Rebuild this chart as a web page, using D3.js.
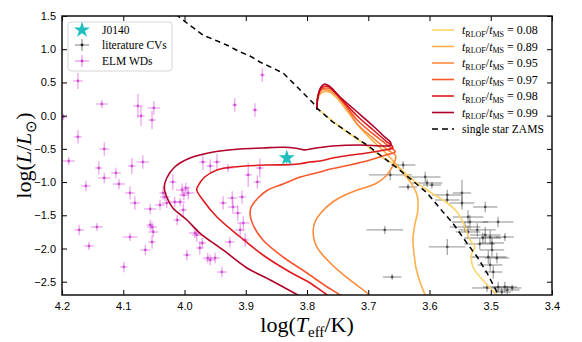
<!DOCTYPE html>
<html>
<head>
<meta charset="utf-8">
<script src="https://cdn.jsdelivr.net/npm/d3@7"></script>
<style>
  body { margin: 0; background: #fff; }
  svg { display: block; }
  .tick text { font-family: "Liberation Sans", Arial, sans-serif; font-size: 11px; fill: #000; }
  .serif { font-family: "Liberation Serif", "Times New Roman", serif; fill: #000; }
</style>
</head>
<body>
<svg id="chart" width="582" height="342"></svg>
<script>
// axis ticks
var xTicks = [4.2, 4.1, 4.0, 3.9, 3.8, 3.7, 3.6, 3.5, 3.4];
var yTicks = [1.5, 1.0, 0.5, 0.0, -0.5, -1.0, -1.5, -2.0, -2.5];

// binary tracks, [logTeff, logL]
var trackLabels = ["0.08", "0.89", "0.95", "0.97", "0.98", "0.99"];
var track008 = [[3.784,0.115],[3.754,-0.111],[3.730,-0.276],[3.702,-0.457],[3.678,-0.622],[3.653,-0.758],[3.627,-0.969],[3.599,-1.149],[3.571,-1.315],[3.555,-1.450],[3.545,-1.616],[3.534,-1.872],[3.526,-1.977],[3.531,-2.068],[3.529,-2.278],[3.513,-2.474],[3.493,-2.670],[3.485,-2.745]];
var track089 = [[3.784,0.085],[3.782,0.266],[3.774,0.356],[3.764,0.356],[3.753,0.281],[3.733,0.055],[3.713,-0.186],[3.689,-0.412],[3.668,-0.592],[3.655,-0.728],[3.642,-0.878],[3.629,-1.029],[3.620,-1.210],[3.619,-1.420],[3.624,-1.646],[3.627,-1.872],[3.625,-2.098],[3.622,-2.293],[3.615,-2.519],[3.607,-2.700],[3.602,-2.805]];
var track095 = [[3.784,0.085],[3.782,0.281],[3.776,0.386],[3.766,0.386],[3.756,0.341],[3.736,0.130],[3.718,-0.126],[3.692,-0.337],[3.668,-0.517],[3.656,-0.592],[3.655,-0.622],[3.660,-0.758],[3.671,-0.909],[3.689,-1.029],[3.713,-1.104],[3.738,-1.195],[3.758,-1.300],[3.776,-1.450],[3.787,-1.601],[3.790,-1.752],[3.784,-1.977],[3.762,-2.218],[3.730,-2.474],[3.702,-2.670],[3.692,-2.775]];
var track097 = [[3.784,0.085],[3.782,0.296],[3.776,0.401],[3.767,0.416],[3.759,0.386],[3.740,0.190],[3.718,-0.066],[3.692,-0.276],[3.669,-0.442],[3.658,-0.517],[3.656,-0.547],[3.671,-0.592],[3.697,-0.668],[3.730,-0.743],[3.762,-0.803],[3.779,-0.848],[3.811,-0.924],[3.839,-1.029],[3.864,-1.119],[3.880,-1.240],[3.891,-1.375],[3.893,-1.481],[3.888,-1.646],[3.872,-1.872],[3.839,-2.128],[3.800,-2.369],[3.767,-2.579],[3.746,-2.700],[3.730,-2.805]];
var track098 = [[3.784,0.085],[3.782,0.296],[3.777,0.416],[3.769,0.446],[3.761,0.416],[3.743,0.236],[3.718,-0.005],[3.692,-0.216],[3.671,-0.382],[3.661,-0.457],[3.660,-0.487],[3.673,-0.517],[3.702,-0.562],[3.738,-0.607],[3.758,-0.638],[3.779,-0.683],[3.795,-0.698],[3.811,-0.725],[3.828,-0.738],[3.865,-0.743],[3.921,-0.773],[3.947,-0.818],[3.967,-0.924],[3.978,-1.059],[3.980,-1.119],[3.970,-1.270],[3.947,-1.526],[3.909,-1.827],[3.872,-2.098],[3.828,-2.354],[3.795,-2.519],[3.767,-2.700],[3.749,-2.805]];
var track099 = [[3.784,0.085],[3.782,0.296],[3.777,0.431],[3.771,0.476],[3.764,0.446],[3.746,0.281],[3.718,0.055],[3.692,-0.156],[3.673,-0.321],[3.664,-0.397],[3.663,-0.442],[3.674,-0.457],[3.713,-0.442],[3.758,-0.457],[3.779,-0.480],[3.792,-0.498],[3.805,-0.515],[3.818,-0.490],[3.839,-0.475],[3.872,-0.487],[3.909,-0.502],[3.953,-0.547],[3.991,-0.638],[4.016,-0.773],[4.029,-0.939],[4.033,-1.074],[4.029,-1.225],[4.019,-1.390],[3.996,-1.571],[3.975,-1.767],[3.937,-2.022],[3.898,-2.293],[3.860,-2.474],[3.815,-2.700],[3.795,-2.805]];
var tracks = [track008, track089, track095, track097, track098, track099];
var trackColors = ["#fdd46a", "#feb04a", "#fd8a3b", "#f8562c", "#e0191d", "#b00028"];

// single star ZAMS
var zams = [[4.014,1.530],[4.007,1.470],[3.970,1.214],[3.931,1.063],[3.909,0.958],[3.893,0.898],[3.877,0.808],[3.839,0.642],[3.816,0.431],[3.790,0.190],[3.784,0.115],[3.758,-0.096],[3.702,-0.442],[3.653,-0.788],[3.627,-0.984],[3.604,-1.164],[3.578,-1.450],[3.562,-1.616],[3.539,-1.917],[3.522,-2.128],[3.506,-2.369],[3.490,-2.655],[3.485,-2.740]];

// ELM WDs, [logTeff, logL, err logTeff, err logL]
var elmWDs = [[4.198,-0.020,0.006,0.05],[4.174,0.522,0.008,0.12],[4.135,0.175,0.010,0.06],[4.076,0.145,0.008,0.18],[4.071,-0.005,0.006,0.15],[4.050,0.115,0.010,0.10],[4.053,-0.066,0.006,0.14],[4.174,-0.321,0.006,0.10],[4.131,-0.502,0.008,0.10],[4.189,-0.683,0.010,0.06],[4.140,-0.788,0.006,0.10],[4.131,-0.939,0.010,0.08],[4.112,-0.863,0.008,0.08],[4.086,-0.758,0.006,0.12],[4.068,-0.698,0.010,0.10],[4.161,-1.059,0.008,0.08],[4.107,-1.029,0.010,0.08],[4.089,-1.164,0.008,0.10],[4.081,-1.315,0.008,0.10],[4.056,-1.405,0.010,0.08],[4.172,-1.721,0.008,0.08],[4.143,-1.676,0.010,0.06],[4.156,-1.962,0.008,0.06],[4.089,-1.827,0.012,0.06],[4.056,-1.646,0.006,0.08],[4.051,-1.751,0.008,0.08],[4.053,-1.902,0.006,0.10],[4.064,-2.022,0.008,0.08],[4.099,-2.278,0.006,0.08],[4.029,-1.315,0.008,0.08],[4.035,-1.164,0.006,0.10],[4.019,-0.999,0.006,0.12],[4.004,-1.119,0.010,0.10],[4.001,-1.195,0.008,0.08],[4.007,-1.300,0.008,0.06],[4.002,-1.420,0.006,0.10],[4.012,-1.571,0.006,0.08],[3.996,-2.098,0.006,0.08],[3.983,-1.767,0.010,0.08],[3.970,-0.698,0.006,0.12],[3.958,-0.758,0.006,0.10],[3.947,-0.698,0.006,0.12],[3.929,-0.788,0.010,0.06],[3.896,-0.893,0.006,0.18],[3.877,-0.788,0.006,0.14],[3.881,-0.999,0.006,0.10],[4.040,-1.345,0.008,0.08],[4.016,-1.300,0.008,0.08],[4.032,-1.225,0.008,0.06],[4.053,-1.676,0.008,0.08],[3.980,-1.797,0.008,0.10],[3.975,-1.992,0.006,0.10],[3.962,-2.143,0.008,0.08],[3.950,-2.143,0.008,0.08],[3.939,-2.354,0.008,0.08],[3.922,-1.240,0.008,0.10],[3.906,-1.225,0.006,0.10],[3.921,-1.375,0.008,0.10],[3.937,-1.315,0.006,0.10],[3.913,-1.466,0.006,0.12],[3.904,-1.616,0.010,0.10],[3.909,-1.721,0.008,0.12],[3.901,-1.872,0.006,0.10],[3.926,-1.902,0.008,0.08],[3.873,0.612,0.004,0.10],[3.918,0.160,0.004,0.10],[3.885,0.085,0.004,0.10],[3.971,-1.917,0.006,0.08],[3.958,-2.173,0.008,0.08],[3.998,-1.089,0.008,0.08],[3.994,-1.164,0.010,0.10]];

// literature CVs, [logTeff, logL, err logTeff, err logL]
var litCVs = [[3.643,-0.743,0.020,0.06],[3.664,-0.893,0.035,0.08],[3.635,-1.074,0.015,0.05],[3.607,-0.924,0.025,0.08],[3.604,-1.014,0.025,0.06],[3.596,-1.044,0.015,0.05],[3.673,-1.721,0.030,0.06],[3.661,-2.429,0.015,0.04],[3.571,-1.194,0.025,0.08],[3.571,-1.270,0.020,0.06],[3.547,-1.164,0.015,0.20],[3.547,-1.315,0.020,0.10],[3.509,-1.375,0.020,0.08],[3.571,-1.977,0.030,0.12],[3.537,-1.526,0.025,0.10],[3.534,-1.601,0.030,0.10],[3.542,-1.676,0.025,0.08],[3.537,-1.751,0.020,0.10],[3.522,-1.721,0.030,0.10],[3.509,-1.797,0.025,0.12],[3.513,-1.842,0.030,0.08],[3.501,-1.827,0.015,0.10],[3.488,-1.601,0.025,0.08],[3.477,-1.827,0.015,0.06],[3.498,-2.022,0.020,0.10],[3.504,-2.128,0.030,0.10],[3.490,-2.143,0.020,0.08],[3.501,-2.248,0.020,0.10],[3.496,-2.354,0.015,0.10],[3.488,-2.579,0.025,0.08],[3.477,-2.579,0.020,0.08],[3.482,-2.655,0.015,0.06],[3.473,-2.624,0.020,0.06],[3.465,-2.594,0.015,0.05],[3.506,-2.594,0.025,0.06],[3.518,-1.932,0.025,0.08],[3.498,-1.917,0.020,0.08]];

// J0140
var j0140 = [3.833, -0.637, 0.004, 0.08];

var W = 582, H = 342;
var margin = {top: 16, right: 30, bottom: 47, left: 62};
var graph_w = W - margin.left - margin.right;
var graph_h = H - margin.top - margin.bottom;

var svg = d3.select("#chart");
var g = svg.append("g").attr("transform", "translate(" + margin.left + "," + margin.top + ")");

var x = d3.scaleLinear().domain([4.2, 3.4]).range([0, graph_w]);
var y = d3.scaleLinear().domain([-2.7, 1.5]).range([graph_h, 0]);

svg.append("defs").append("clipPath").attr("id", "plotclip")
  .append("rect").attr("width", graph_w).attr("height", graph_h);

var data = g.append("g").attr("clip-path", "url(#plotclip)");

// error-bar crosses
function errCross(sel, pts, color, alpha, dotColor) {
  var pg = sel.append("g");
  pts.forEach(function(d) {
    var cx = x(d[0]), cy = y(d[1]);
    pg.append("line").attr("x1", x(d[0] + d[2])).attr("x2", x(d[0] - d[2]))
      .attr("y1", cy).attr("y2", cy)
      .attr("stroke", color).attr("stroke-opacity", alpha).attr("stroke-width", 1.3);
    pg.append("line").attr("x1", cx).attr("x2", cx)
      .attr("y1", y(d[1] + d[3])).attr("y2", y(d[1] - d[3]))
      .attr("stroke", color).attr("stroke-opacity", alpha).attr("stroke-width", 1.3);
    pg.append("circle").attr("cx", cx).attr("cy", cy).attr("r", 1.4)
      .attr("fill", dotColor).attr("fill-opacity", alpha + 0.2);
  });
}

errCross(data, elmWDs, "#d23cd6", 0.45, "#c42ac8");
errCross(data, litCVs, "#222", 0.4, "#222");

var line = d3.line()
  .x(function(d) { return x(d[0]); })
  .y(function(d) { return y(d[1]); })
  .curve(d3.curveCatmullRom.alpha(0.5));

tracks.forEach(function(t, i) {
  data.append("path").datum(t)
    .attr("fill", "none")
    .attr("stroke", trackColors[i])
    .attr("stroke-width", 1.6)
    .attr("stroke-linejoin", "round")
    .attr("d", line);
});

data.append("path").datum(zams)
  .attr("fill", "none")
  .attr("stroke", "#000")
  .attr("stroke-width", 1.5)
  .attr("stroke-dasharray", "5.5,4")
  .attr("d", d3.line().x(function(d) { return x(d[0]); }).y(function(d) { return y(d[1]); }));

// J0140 with its error bars
var star = d3.symbol().type(d3.symbolStar).size(80);
data.append("line").attr("x1", x(j0140[0])).attr("x2", x(j0140[0]))
  .attr("y1", y(j0140[1] + j0140[3])).attr("y2", y(j0140[1] - j0140[3]))
  .attr("stroke", "#1fbfbf").attr("stroke-width", 1.3);
data.append("path").attr("d", star)
  .attr("transform", "translate(" + x(j0140[0]) + "," + y(j0140[1]) + ")")
  .attr("fill", "#1fbfbf");

// axes, ticks pointing inwards on all four sides
var fmt = d3.format(".1f");
g.append("g").attr("transform", "translate(0," + graph_h + ")")
  .call(d3.axisBottom(x).tickValues(xTicks).tickFormat(fmt).tickSize(-5).tickPadding(7));
g.append("g")
  .call(d3.axisLeft(y).tickValues(yTicks).tickFormat(fmt).tickSize(-5).tickPadding(6));
g.append("g")
  .call(d3.axisTop(x).tickValues(xTicks).tickFormat("").tickSize(-5));
g.append("g").attr("transform", "translate(" + graph_w + ",0)")
  .call(d3.axisRight(y).tickValues(yTicks).tickFormat("").tickSize(-5));
g.selectAll(".domain").remove();
g.selectAll(".tick line").attr("stroke", "#000").attr("stroke-width", 1);

g.append("rect").attr("width", graph_w).attr("height", graph_h)
  .attr("fill", "none").attr("stroke", "#111").attr("stroke-width", 1.5);

// axis titles
var xl = svg.append("text").attr("class", "serif")
  .attr("x", margin.left + graph_w / 2).attr("y", 332)
  .attr("text-anchor", "middle").style("font-size", "22px");
xl.append("tspan").text("log(");
xl.append("tspan").style("font-style", "italic").text("T");
xl.append("tspan").attr("dy", 5).style("font-size", "15px").text("eff");
xl.append("tspan").attr("dy", -5).text("/K)");

var yl = svg.append("text").attr("class", "serif")
  .attr("transform", "translate(31," + (margin.top + graph_h / 2) + ") rotate(-90)")
  .attr("text-anchor", "middle").style("font-size", "22px");
yl.append("tspan").text("log(");
yl.append("tspan").style("font-style", "italic").text("L");
yl.append("tspan").text("/");
yl.append("tspan").style("font-style", "italic").text("L");
yl.append("tspan").attr("dy", 5).style("font-size", "15px").text("\u2299");
yl.append("tspan").attr("dy", -5).text(")");

// left legend
var lg = svg.append("g");
lg.append("rect").attr("x", 68).attr("y", 22).attr("width", 104).attr("height", 49)
  .attr("rx", 3).attr("fill", "#fff").attr("fill-opacity", 0.85)
  .attr("stroke", "#d6d6d6").attr("stroke-width", 1);
lg.append("path").attr("d", star).attr("transform", "translate(82,30)").attr("fill", "#1fbfbf");
[[45, "#222", 0.45], [61, "#d23cd6", 0.5]].forEach(function(r) {
  lg.append("line").attr("x1", 75).attr("x2", 89).attr("y1", r[0]).attr("y2", r[0])
    .attr("stroke", r[1]).attr("stroke-opacity", r[2]).attr("stroke-width", 1.3);
  lg.append("line").attr("x1", 82).attr("x2", 82).attr("y1", r[0] - 6).attr("y2", r[0] + 6)
    .attr("stroke", r[1]).attr("stroke-opacity", r[2]).attr("stroke-width", 1.3);
  lg.append("circle").attr("cx", 82).attr("cy", r[0]).attr("r", 1.4).attr("fill", r[1]);
});
[[30, "J0140"], [45, "literature CVs"], [61, "ELM WDs"]].forEach(function(r) {
  lg.append("text").attr("class", "serif").attr("x", 102).attr("y", r[0] + 4)
    .style("font-size", "11.5px").text(r[1]);
});

// right legend
var rg = svg.append("g");
trackLabels.forEach(function(lab, i) {
  var ly = 30 + i * 16.5;
  rg.append("line").attr("x1", 432).attr("x2", 454).attr("y1", ly).attr("y2", ly)
    .attr("stroke", trackColors[i]).attr("stroke-width", 1.6);
  var t = rg.append("text").attr("class", "serif").attr("x", 462).attr("y", ly + 4)
    .style("font-size", "12px");
  t.append("tspan").style("font-style", "italic").text("t");
  t.append("tspan").attr("dy", 2.5).style("font-size", "8px").text("RLOF");
  t.append("tspan").attr("dy", -2.5).text("/");
  t.append("tspan").style("font-style", "italic").text("t");
  t.append("tspan").attr("dy", 2.5).style("font-size", "8px").text("MS");
  t.append("tspan").attr("dy", -2.5).text(" = " + lab);
});
var zy = 30 + 6 * 16.5;
rg.append("line").attr("x1", 432).attr("x2", 454).attr("y1", zy).attr("y2", zy)
  .attr("stroke", "#000").attr("stroke-width", 1.5).attr("stroke-dasharray", "6,4");
rg.append("text").attr("class", "serif").attr("x", 462).attr("y", zy + 4)
  .style("font-size", "11.5px").text("single star ZAMS");
</script>
</body>
</html>
